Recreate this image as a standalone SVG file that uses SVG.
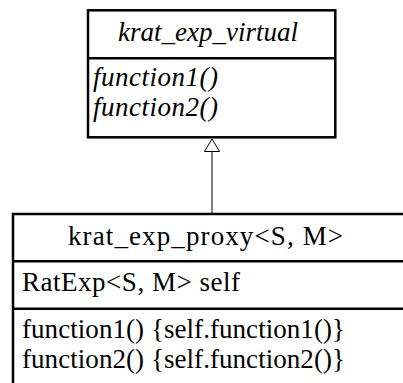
<svg xmlns="http://www.w3.org/2000/svg" width="403" height="383" viewBox="0 0 403 383">
  <style>
    .box { fill: #ffffff; stroke: #000000; stroke-width: 2.5; }
    .div { stroke: #000000; stroke-width: 2.5; fill: none; }
    .conn { stroke: #000000; stroke-width: 1; fill: none; }
    .t { font-family: "Liberation Serif", "Times New Roman", serif; font-size: 27px; fill: #000000; }
    .it { font-style: italic; }
  </style>
  <defs>
    <marker id="tri" markerUnits="userSpaceOnUse" markerWidth="16" markerHeight="18" refX="12.5" refY="7.5" orient="auto" viewBox="-1 -1 16 18">
      <path d="M0,0 L12.5,7.5 L0,15 Z" fill="#ffffff" stroke="#000000" stroke-width="1"/>
    </marker>
  </defs>
  <rect width="403" height="383" fill="#ffffff"/>

  <g id="connectors">
    <line class="conn" x1="212" y1="214" x2="212" y2="139" marker-end="url(#tri)"/>
  </g>

  <g id="krat_exp_virtual">
    <rect class="box" x="88" y="10.3" width="247.3" height="127"/>
    <line class="div" x1="88" y1="58.3" x2="335.3" y2="58.3"/>
    <text class="t it" x="118" y="41" textLength="180">krat_exp_virtual</text>
    <text class="t it" x="93" y="86" textLength="125">function1()</text>
    <text class="t it" x="93" y="116" textLength="125">function2()</text>
  </g>

  <g id="krat_exp_proxy">
    <rect class="box" x="13" y="214" width="392" height="180"/>
    <line class="div" x1="13" y1="261.3" x2="405" y2="261.3"/>
    <line class="div" x1="13" y1="308.7" x2="405" y2="308.7"/>
    <text class="t" x="68" y="245" textLength="275">krat_exp_proxy&lt;S, M&gt;</text>
    <text class="t" x="22" y="291" textLength="218">RatExp&lt;S, M&gt; self</text>
    <text class="t" x="22" y="338" textLength="323">function1() {self.function1()}</text>
    <text class="t" x="22" y="368" textLength="323">function2() {self.function2()}</text>
  </g>
</svg>
